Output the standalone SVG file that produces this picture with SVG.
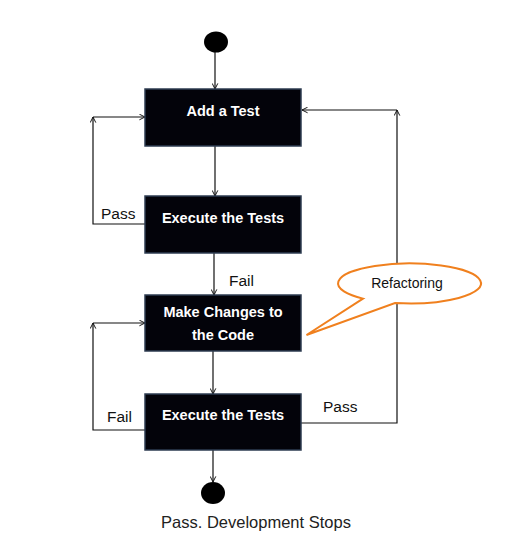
<svg xmlns="http://www.w3.org/2000/svg" width="507" height="555" viewBox="0 0 507 555">
<style>
.box{fill:#03030a;stroke:#2e3d52;stroke-width:1.5}
.bt{font-family:"Liberation Sans",Arial,sans-serif;font-weight:bold;font-size:14.5px;fill:#fff;text-anchor:middle}
.lb{font-family:"Liberation Sans",Arial,sans-serif;font-size:15.5px;fill:#111}
.ln{fill:none;stroke:#111;stroke-width:1.2}
.ar{marker-end:url(#ah)}
.dot{fill:#000}
</style>
<defs>
<marker id="ah" viewBox="0 0 10 10" refX="9" refY="5" markerWidth="7" markerHeight="7" markerUnits="userSpaceOnUse" orient="auto">
<path d="M1,1 L9,5 L1,9" fill="none" stroke="#111" stroke-width="1.4"/>
</marker>
</defs>
<rect width="507" height="555" fill="#fff"/>
<g id="connectors">
<line class="ln ar" x1="215" y1="52" x2="215" y2="89"/>
<line class="ln ar" x1="215" y1="146" x2="215" y2="196"/>
<line class="ln ar" x1="214" y1="253" x2="214" y2="295"/>
<line class="ln ar" x1="213" y1="351" x2="213" y2="394"/>
<line class="ln ar" x1="213" y1="450" x2="213" y2="482"/>
<polyline class="ln ar" points="145,224 93,224 93,117"/>
<line class="ln ar" x1="93" y1="117" x2="145" y2="117"/>
<polyline class="ln ar" points="145,430 93,430 93,323"/>
<line class="ln ar" x1="93" y1="323" x2="145" y2="323"/>
<polyline class="ln ar" points="301,423 397,423 397,110"/>
<line class="ln ar" x1="397" y1="110" x2="302" y2="110"/>
<text class="lb" x="101" y="219">Pass</text>
<text class="lb" x="229" y="286">Fail</text>
<text class="lb" x="107" y="422">Fail</text>
<text class="lb" x="323" y="412">Pass</text>
</g>
<g id="start"><ellipse class="dot" cx="216" cy="42" rx="12" ry="10.5"/></g>
<g id="add-test">
<rect class="box" x="145" y="89" width="156" height="57"/>
<text class="bt" x="223" y="116">Add a Test</text>
</g>
<g id="execute-1">
<rect class="box" x="145" y="196" width="156" height="57"/>
<text class="bt" x="223" y="223">Execute the Tests</text>
</g>
<g id="make-changes">
<rect class="box" x="145" y="295" width="156" height="56"/>
<text class="bt" x="223" y="317">Make Changes to</text>
<text class="bt" x="223" y="340">the Code</text>
</g>
<g id="execute-2">
<rect class="box" x="145" y="394" width="156" height="56"/>
<text class="bt" x="223" y="420">Execute the Tests</text>
</g>
<g id="end">
<ellipse class="dot" cx="213" cy="493" rx="12" ry="11"/>
<text x="256" y="528" font-family="'Liberation Sans',Arial,sans-serif" font-size="16.5" fill="#222" text-anchor="middle">Pass. Development Stops</text>
</g>
<g id="refactoring">
<path d="M363,298.6 L306.5,335 L395,303 A71.5,20 0 1 0 363,298.6 Z" fill="#fff" stroke="#f0801e" stroke-width="2" stroke-linejoin="miter"/>
<text x="407" y="288" font-family="'Liberation Sans',Arial,sans-serif" font-size="14" fill="#111" text-anchor="middle">Refactoring</text>
</g>
</svg>
